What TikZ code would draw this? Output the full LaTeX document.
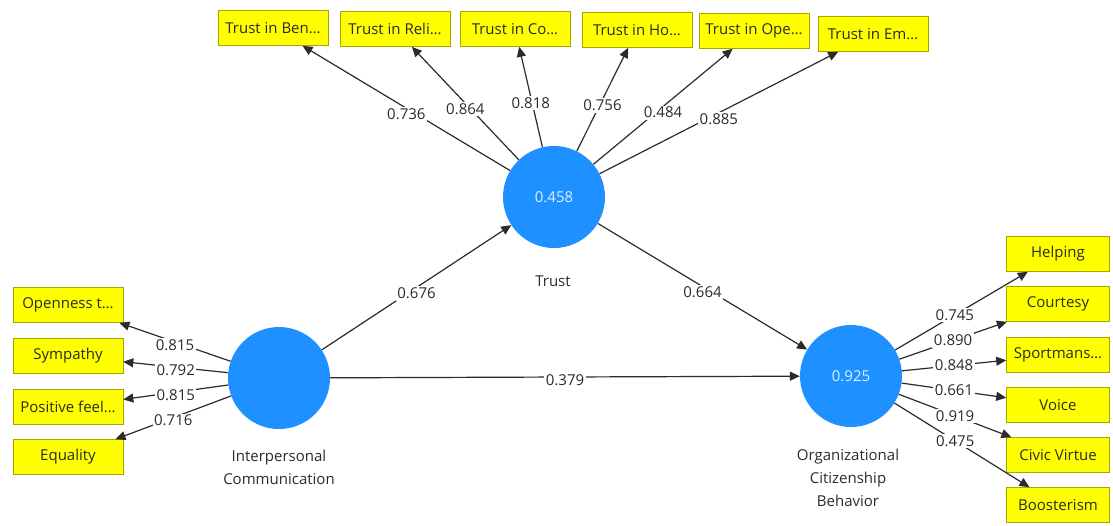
\documentclass[tikz,border=0pt]{standalone}
\usepackage{fontspec}
\setmainfont{Open Sans}
\usetikzlibrary{arrows.meta}
\definecolor{lv}{HTML}{1E90FF}
\definecolor{lvtext}{HTML}{DDF1FF}
\definecolor{mv}{HTML}{FFFF00}
\definecolor{mvedge}{HTML}{A6A600}
\definecolor{ink}{HTML}{2B2B2B}

\begin{document}
\begin{tikzpicture}[x=1pt,y=-1pt,font=\fontsize{15}{23}\selectfont,text=ink,
  >={Triangle[length=10pt,width=9pt]},
  latent/.style={circle,fill=lv,minimum size=102pt,inner sep=0pt,text=lvtext},
  indic/.style={draw=mvedge,fill=mv,line width=.6pt,minimum width=110pt,minimum height=35pt,inner sep=2pt},
  link/.style={->,draw=ink,line width=1.2pt},
  coef/.style={fill=white,inner sep=1.5pt}]
  \useasboundingbox (0,0) rectangle (1113,525);
  % constructs
  \node[latent] (trust) at (554,197) {0.458};
  \node[latent] (ic) at (279,378) {};
  \node[latent] (ocb) at (851,376) {0.925};
  \node (trustlbl) at (553,281) {Trust};
  \node[align=center] (iclbl) at (279,467) {Interpersonal\\Communication};
  \node[align=center] (ocblbl) at (848,478) {Organizational\\Citizenship\\Behavior};
  % trust indicators
  \foreach \nm/\x/\y/\txt in {ben/273/28/Trust in Ben…,reli/395/29/Trust in Reli…,
      co/515/29/Trust in Co…,ho/637/30/Trust in Ho…,ope/754/31/Trust in Ope…,
      em/873/34/Trust in Em…}{
    \node[indic] (\nm) at (\x,\y) {\txt};
    \draw[link] (trust) -- (\nm);
  }
  % interpersonal communication indicators
  \foreach \nm/\y/\txt in {open/305/Openness t…,symp/356/Sympathy,
      posi/407/Positive feel…,equa/457/Equality}{
    \node[indic] (\nm) at (68,\y) {\txt};
    \draw[link] (ic) -- (\nm);
  }
  % ocb indicators
  \foreach \nm/\y/\txt in {help/254/Helping,cour/304/Courtesy,sport/355/Sportmans…,
      voice/405/Voice,civic/455/Civic Virtue,boost/505/Boosterism}{
    \node[indic,minimum width=103pt] (\nm) at (1058,\y) {\txt};
    \draw[link] (ocb) -- (\nm);
  }
  % structural paths
  \draw[link] (ic) -- node[coef,yshift=-6pt] {0.676} (trust);
  \draw[link] (trust) -- node[coef,yshift=-6pt] {0.664} (ocb);
  \draw[link] (ic) -- node[coef,yshift=-3pt] {0.379} (ocb);
  % loadings
  \foreach \nm/\w in {ben/0.736,reli/0.864,co/0.818,ho/0.756,ope/0.484,em/0.885}
    \path (trust) -- node[coef,yshift=-6pt] {\w} (\nm);
  \foreach \nm/\w in {open/0.815,symp/0.792,posi/0.815,equa/0.716}
    \path (ic) -- node[coef,yshift=-3pt] {\w} (\nm);
  \foreach \nm/\w/\p in {help/0.745/.45,cour/0.890/.5,sport/0.848/.5,voice/0.661/.5,
      civic/0.919/.5,boost/0.475/.45}
    \path (ocb) -- node[coef,pos=\p] {\w} (\nm);
\end{tikzpicture}
\end{document}
